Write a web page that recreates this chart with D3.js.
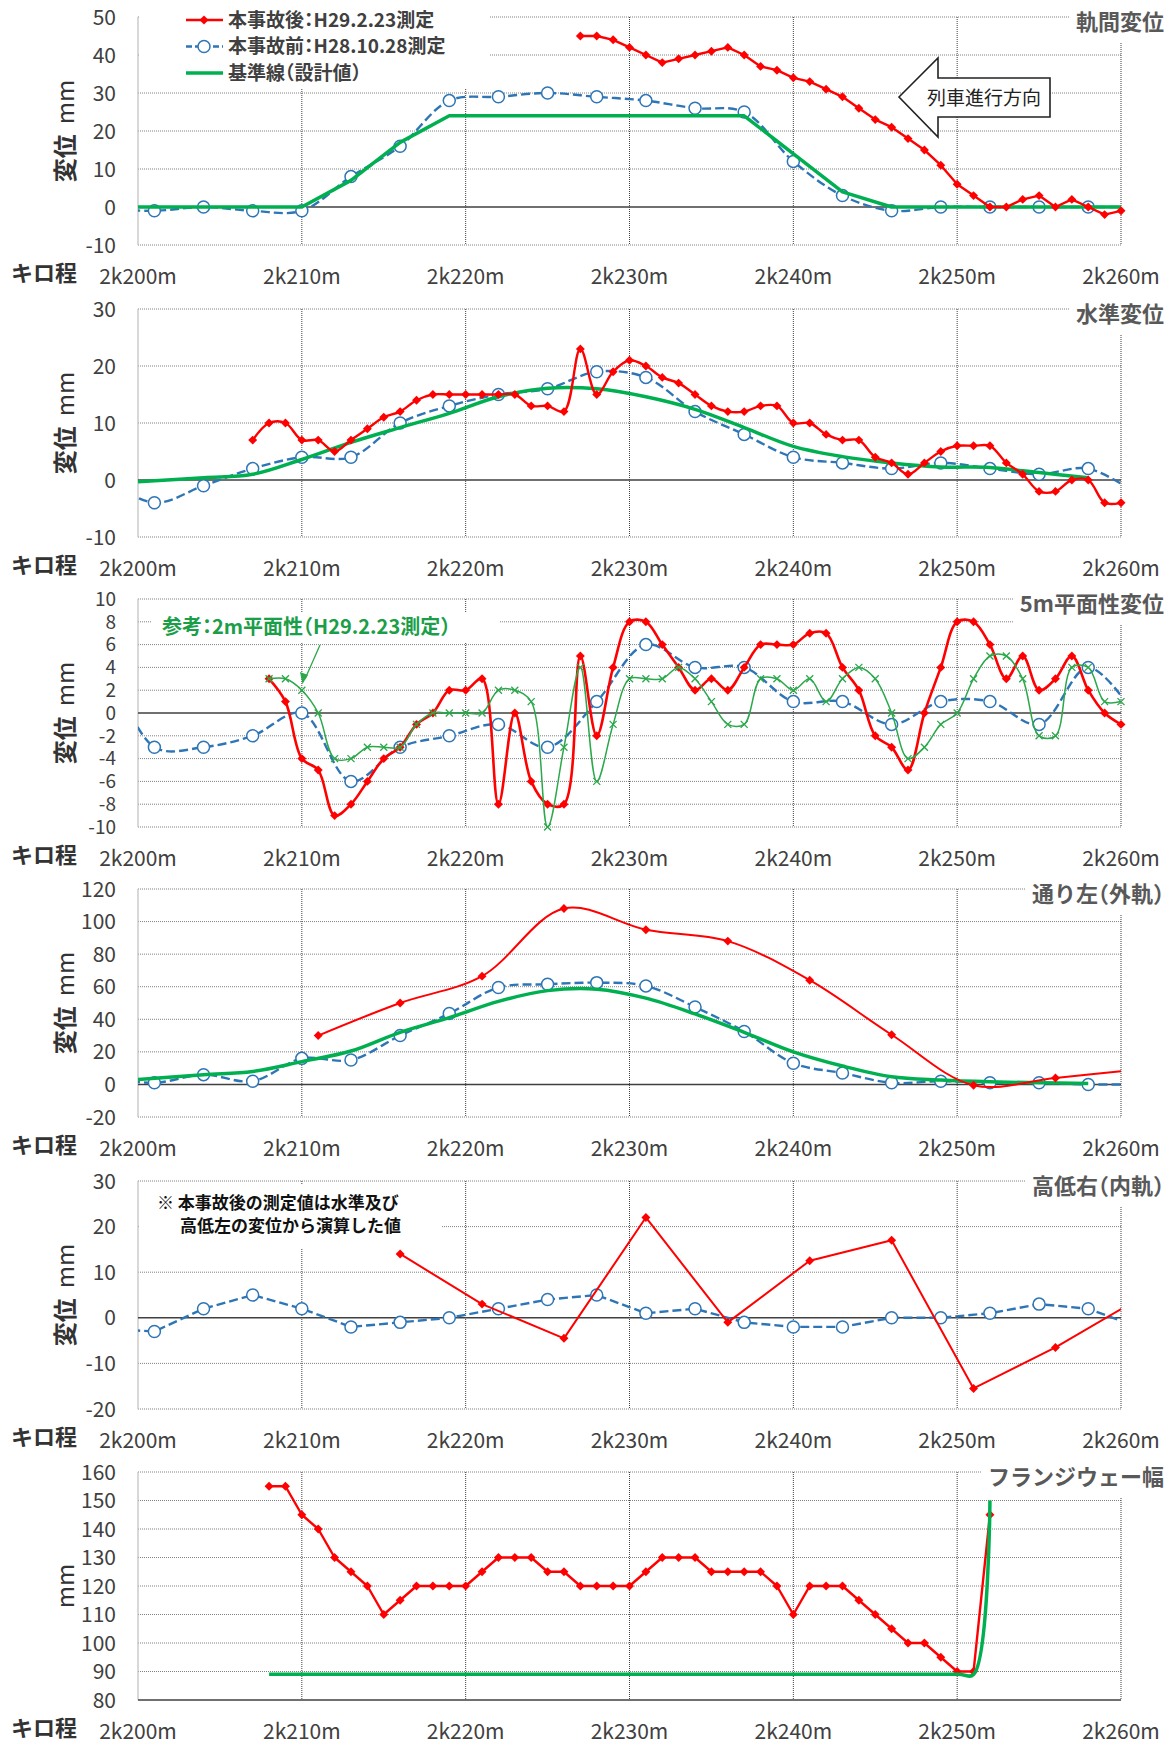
<!DOCTYPE html>
<html>
<head>
<meta charset="utf-8">
<script src="https://cdn.jsdelivr.net/npm/d3@7"></script>
<style>
body { margin: 0; background: #fff; }
svg { display: block; font-family: "Noto Sans CJK JP", "Noto Sans", sans-serif; }
svg text { font-feature-settings: "halt"; }
</style>
</head>
<body>
<div id="chart"></div>
<script>
// キロ程 (2k200m からの m)
var xTicks = [0, 10, 20, 30, 40, 50, 60];
var xTickLabels = ["2k200m", "2k210m", "2k220m", "2k230m", "2k240m", "2k250m", "2k260m"];

// 本事故前の測定点 (3m ピッチ, 両端はグラフ外)
var kmBefore = [-2, 1, 4, 7, 10, 13, 16, 19, 22, 25, 28, 31, 34, 37, 40, 43, 46, 49, 52, 55, 58, 61];

// 軌間変位
var gaugeBefore = [-0.5, -1, 0, -1, -1, 8, 16, 28, 29, 30, 29, 28, 26, 25, 12, 3, -1, 0, 0, 0, 0, 0];
var gaugeAfterKm = [27, 28, 29, 30, 31, 32, 33, 34, 35, 36, 37, 38, 39, 40, 41, 42, 43, 44, 45, 46, 47, 48, 49, 50, 51, 52, 53, 54, 55, 56, 57, 58, 59, 60];
var gaugeAfter = [45, 45, 44, 42, 40, 38, 39, 40, 41, 42, 40, 37, 36, 34, 33, 31, 29, 26, 23, 21, 18, 15, 11, 6, 3, 0, 0, 2, 3, 0, 2, 0, -2, -1];
var gaugeDesignKm = [0, 10, 13, 16, 19, 37, 43, 46, 60];
var gaugeDesign = [0, 0, 7, 17, 24, 24, 4, 0, 0];

// 水準変位
var levelBefore = [0.2, -4, -1, 2, 4, 4, 10, 13, 15, 16, 19, 18, 12, 8, 4, 3, 2, 3, 2, 1, 2, -2.5];
var levelAfterKm = [7, 8, 9, 10, 11, 12, 13, 14, 15, 16, 17, 18, 19, 20, 21, 22, 23, 24, 25, 26, 27, 28, 29, 30, 31, 32, 33, 34, 35, 36, 37, 38, 39, 40, 41, 42, 43, 44, 45, 46, 47, 48, 49, 50, 51, 52, 53, 54, 55, 56, 57, 58, 59, 60];
var levelAfter = [7, 10, 10, 7, 7, 5, 7, 9, 11, 12, 14, 15, 15, 15, 15, 15, 15, 13, 13, 12, 23, 15, 19,
                  21, 20, 18, 17, 15, 13, 12, 12, 13, 13, 10, 10, 8, 7, 7, 4, 3, 1, 3, 5, 6, 6, 6, 3, 1, -2, -2, 0, 0, -4, -4];
var levelDesignKm = [0, 4, 7, 10, 13, 16, 19, 22, 25, 28, 31, 34, 37, 40, 43, 46, 49, 52, 55, 58];
var levelDesign = [-0.3, 0.4, 1, 3.6, 6.6, 9.2, 11.7, 14.6, 16.1, 16, 14.6, 12.4, 9.2, 5.9, 4.1, 3, 2.3, 2.2, 1.3, 0.4];

// 5m平面性変位
var twistBefore = [5, -3, -3, -2, 0, -6, -3, -2, -1, -3, 1, 6, 4, 4, 1, 1, -1, 1, 1, -1, 4, -0.5];
var twistAfterKm = [8, 9, 10, 11, 12, 13, 14, 15, 16, 17, 18, 19, 20, 21, 22, 23, 24, 25, 26, 27, 28, 29, 30, 31, 32, 33, 34, 35, 36, 37, 38, 39, 40, 41, 42, 43, 44, 45, 46, 47, 48, 49, 50, 51, 52, 53, 54, 55, 56, 57, 58, 59, 60];
var twistAfter = [3, 1, -4, -5, -9, -8, -6, -4, -3, -1, 0, 2, 2, 3, -8, 0, -6, -8, -8, 5, -2, 4,
                  8, 8, 6, 4, 2, 3, 2, 4, 6, 6, 6, 7, 7, 4, 2, -2, -3, -5, 0, 4, 8, 8, 6, 3, 5, 2, 3, 5, 2, 0, -1];
var twist2m = [3, 3, 2, 0, -4, -4, -3, -3, -3, -1, 0, 0, 0, 0, 2, 2, 1, -10, -3, 4, -6, -1,
               3, 3, 3, 4, 3, 1, -1, -1, 3, 3, 2, 3, 1, 3, 4, 3, 0, -4, -3, -1, 0, 3, 5, 5, 3, -2, -2, 4, 4, 1, 1];

// 通り左(外軌)
var alignBefore = [4, 1, 6, 2, 16, 15, 30, 43.5, 59.5, 61.5, 62.5, 60.5, 47.5, 32.5, 13, 7, 1, 2, 1, 1, 0, 0];
var alignAfterKm = [11, 16, 21, 26, 31, 36, 41, 46, 51, 56, 61];
var alignAfter = [30, 50, 66.5, 108, 95, 88, 64, 30.5, -0.5, 4, 9.2];
var alignDesignKm = [0, 4, 7, 10, 13, 16, 19, 22, 25, 28, 31, 34, 37, 40, 43, 46, 49, 52, 55, 58];
var alignDesign = [3, 6, 8, 14, 20.5, 32, 41, 51, 57.6, 58.5, 53, 43.3, 32, 20, 11.3, 4.7, 2.7, 1.6, 1, 0.6];

// 高低右(内軌)
var surfBefore = [-2.4, -3, 2, 5, 2, -2, -1, 0, 2, 4, 5, 1, 2, -1, -2, -2, 0, 0, 1, 3, 2, -2];
var surfAfterKm = [16, 21, 26, 31, 36, 41, 46, 51, 56, 61];
var surfAfter = [14, 3, -4.5, 22, -1, 12.5, 17, -15.5, -6.5, 4];

// フランジウェー幅
var flangeKm = [8, 9, 10, 11, 12, 13, 14, 15, 16, 17, 18, 19, 20, 21, 22, 23, 24, 25, 26, 27, 28, 29, 30, 31, 32, 33, 34, 35, 36, 37, 38, 39, 40, 41, 42, 43, 44, 45, 46, 47, 48, 49, 50, 51, 52];
var flangeAfter = [155, 155, 145, 140, 130, 125, 120, 110, 115, 120, 120, 120, 120, 125, 130, 130, 130, 125, 125, 120, 120, 120,
                   120, 125, 130, 130, 130, 125, 125, 125, 125, 120, 110, 120, 120, 120, 115, 110, 105, 100, 100, 95, 90, 90, 145];
var flangeDesignKm = [8, 50, 51, 52];
var flangeDesign = [89, 89, 89, 150];

var RED = "#ff0000", BLUE = "#2e75b6", GREEN = "#00b050", GREEN2 = "#2aa84a", TXT = "#404040";

var panels = [
  { top: 17, dom: [-10, 50], ticks: [-10, 0, 10, 20, 30, 40, 50], title: "軌間変位", ytitle: true, fs: 21,
    series: [
      { km: kmBefore, v: gaugeBefore, kind: "before", smooth: true },
      { km: gaugeDesignKm, v: gaugeDesign, kind: "design", smooth: false },
      { km: gaugeAfterKm, v: gaugeAfter, kind: "after", smooth: false, w: 2.4 }
    ] },
  { top: 309, dom: [-10, 30], ticks: [-10, 0, 10, 20, 30], title: "水準変位", ytitle: true, fs: 21,
    series: [
      { km: kmBefore, v: levelBefore, kind: "before", smooth: true },
      { km: levelDesignKm, v: levelDesign, kind: "design", smooth: true },
      { km: levelAfterKm, v: levelAfter, kind: "after", smooth: true, w: 2.4 }
    ] },
  { top: 599, dom: [-10, 10], ticks: [-10, -8, -6, -4, -2, 0, 2, 4, 6, 8, 10], title: "5m平面性変位", ytitle: true, fs: 19,
    series: [
      { km: kmBefore, v: twistBefore, kind: "before", smooth: true },
      { km: twistAfterKm, v: twistAfter, kind: "after", smooth: true, w: 2.6 },
      { km: twistAfterKm, v: twist2m, kind: "twist2", smooth: true }
    ] },
  { top: 889, dom: [-20, 120], ticks: [-20, 0, 20, 40, 60, 80, 100, 120], title: "通り左（外軌）", ytitle: true, fs: 21,
    series: [
      { km: kmBefore, v: alignBefore, kind: "before", smooth: true },
      { km: alignDesignKm, v: alignDesign, kind: "design", smooth: true },
      { km: alignAfterKm, v: alignAfter, kind: "after", smooth: true, w: 2 }
    ] },
  { top: 1181, dom: [-20, 30], ticks: [-20, -10, 0, 10, 20, 30], title: "高低右（内軌）", ytitle: true, fs: 21,
    series: [
      { km: kmBefore, v: surfBefore, kind: "before", smooth: false },
      { km: surfAfterKm, v: surfAfter, kind: "after", smooth: false, w: 2 }
    ] },
  { top: 1472, dom: [80, 160], ticks: [80, 90, 100, 110, 120, 130, 140, 150, 160], title: "フランジウェー幅", ytitle: false, fs: 21,
    series: [
      { km: flangeKm, v: flangeAfter, kind: "after", smooth: false, w: 2.4 },
      { km: flangeDesignKm, v: flangeDesign, kind: "design", smooth: true }
    ] }
];

var PH = 228;
var svg = d3.select("#chart").append("svg").attr("width", 1174).attr("height", 1744);
var x = d3.scaleLinear().domain([0, 60]).range([138, 1121]);

svg.append("defs").append("clipPath").attr("id", "clipx")
   .append("rect").attr("x", x(0)).attr("y", 0).attr("width", x(60) - x(0)).attr("height", 1744);

var diamond = d3.symbol().type(d3.symbolSquare).size(40);

panels.forEach(function (p, pi) {
  var g = svg.append("g");
  var y = d3.scaleLinear().domain(p.dom).range([p.top + PH, p.top]);
  var bottom = p.top + PH;

  // 横グリッド
  g.selectAll(".hg").data(p.ticks.filter(function (t) { return t !== 0 && !(pi === 5 && t === 80); }))
   .enter().append("line")
   .attr("x1", x(0)).attr("x2", x(60))
   .attr("y1", function (d) { return y(d); }).attr("y2", function (d) { return y(d); })
   .attr("stroke", "#808080").attr("stroke-width", 1).attr("stroke-dasharray", "1,1");

  // 縦グリッド
  g.selectAll(".vg").data(xTicks.slice(1)).enter().append("line")
   .attr("x1", function (d) { return x(d); }).attr("x2", function (d) { return x(d); })
   .attr("y1", p.top).attr("y2", bottom)
   .attr("stroke", "#404040").attr("stroke-width", 1).attr("stroke-dasharray", "1,1");

  // 左軸
  g.append("line").attr("x1", x(0)).attr("x2", x(0)).attr("y1", p.top).attr("y2", bottom)
   .attr("stroke", "#bfbfbf").attr("stroke-width", 1.2);

  // 基線
  var base = pi === 5 ? 80 : 0;
  g.append("line").attr("x1", x(0)).attr("x2", x(60)).attr("y1", y(base)).attr("y2", y(base))
   .attr("stroke", "#404040").attr("stroke-width", 1.4);

  // y 目盛
  g.selectAll(".yl").data(p.ticks).enter().append("text")
   .attr("x", 116).attr("y", function (d) { return y(d); }).attr("dy", "0.36em")
   .attr("text-anchor", "end").attr("font-size", p.fs).attr("fill", TXT)
   .text(function (d) { return d; });

  // x 目盛
  g.selectAll(".xl").data(xTicks).enter().append("text")
   .attr("x", function (d) { return x(d); }).attr("y", bottom + 31).attr("dy", "0.36em")
   .attr("text-anchor", "middle").attr("font-size", 21).attr("fill", TXT)
   .text(function (d, i) { return xTickLabels[i]; });

  g.append("text").attr("x", 11).attr("y", bottom + 28).attr("dy", "0.36em")
   .attr("font-size", 22).attr("font-weight", "bold").attr("fill", "#333").text("キロ程");

  // y 軸タイトル
  var yt = g.append("text").attr("transform", "translate(65," + (p.top + PH / 2) + ") rotate(-90)")
   .attr("text-anchor", "middle").attr("dy", "0.36em").attr("font-size", 24).attr("fill", "#333");
  if (p.ytitle) {
    yt.append("tspan").attr("font-weight", "bold").text("変位");
    yt.append("tspan").attr("dx", 10).text("mm");
  } else {
    yt.text("mm");
  }

  // タイトル (白地)
  var title = g.append("text").attr("x", 1164).attr("y", p.top + 5).attr("dy", "0.36em")
   .attr("text-anchor", "end").attr("font-size", 22).attr("font-weight", "bold").attr("fill", "#595959")
   .text(p.title);
  var bb = title.node().getBBox();
  g.insert("rect", "text").attr("x", bb.x - 6).attr("y", p.top - 17).attr("width", 1174 - bb.x + 6).attr("height", 42)
   .attr("fill", "#fff");

  // 凡例・注記の白地
  if (pi === 0) {
    g.insert("rect", "text").attr("x", 139).attr("y", 0).attr("width", 351).attr("height", 88).attr("fill", "#fff");
  }
  if (pi === 2) {
    g.insert("rect", "text").attr("x", 152).attr("y", p.top + 14).attr("width", 348).attr("height", 30).attr("fill", "#fff");
  }
  if (pi === 4) {
    g.insert("rect", "text").attr("x", 140).attr("y", p.top + 4).attr("width", 301).attr("height", 64).attr("fill", "#fff");
  }

  // 系列
  p.series.forEach(function (s) {
    var pts = s.km.map(function (k, i) { return [k, s.v[i]]; });
    var line = d3.line().x(function (d) { return x(d[0]); }).y(function (d) { return y(d[1]); })
      .curve(s.smooth ? d3.curveCatmullRom.alpha(0.5) : d3.curveLinear);
    var path = g.append("path").attr("d", line(pts)).attr("fill", "none").attr("clip-path", "url(#clipx)")
      .attr("stroke-linejoin", "round");
    var inside = pts.filter(function (d) { return d[0] >= 0 && d[0] <= 60; });
    if (s.kind === "before") {
      path.attr("stroke", BLUE).attr("stroke-width", 2.4).attr("stroke-dasharray", "9,4");
      g.selectAll(null).data(inside).enter().append("circle")
       .attr("cx", function (d) { return x(d[0]); }).attr("cy", function (d) { return y(d[1]); })
       .attr("r", 6).attr("fill", "#fff").attr("stroke", BLUE).attr("stroke-width", 1.5);
    } else if (s.kind === "design") {
      path.attr("stroke", GREEN).attr("stroke-width", 3.5);
    } else if (s.kind === "after") {
      path.attr("stroke", RED).attr("stroke-width", s.w);
      g.selectAll(null).data(inside).enter().append("path")
       .attr("d", diamond)
       .attr("transform", function (d) { return "translate(" + x(d[0]) + "," + y(d[1]) + ") rotate(45)"; })
       .attr("fill", RED);
    } else if (s.kind === "twist2") {
      path.attr("stroke", GREEN2).attr("stroke-width", 1.5);
      g.selectAll(null).data(inside).enter().append("path")
       .attr("d", "M-3.5,-3.5L3.5,3.5M-3.5,3.5L3.5,-3.5")
       .attr("transform", function (d) { return "translate(" + x(d[0]) + "," + y(d[1]) + ")"; })
       .attr("stroke", GREEN2).attr("stroke-width", 1.3).attr("fill", "none");
    }
  });

  // 注記類
  if (pi === 0) {
    var lg = g.append("g");
    var rows = [
      { k: "after", t: "本事故後：H29.2.23測定" },
      { k: "before", t: "本事故前：H28.10.28測定" },
      { k: "design", t: "基準線（設計値）" }
    ];
    rows.forEach(function (r, i) {
      var ly = p.top + 3 + i * 26.5;
      var ln = lg.append("line").attr("x1", 186).attr("x2", 223).attr("y1", ly).attr("y2", ly);
      if (r.k === "after") {
        ln.attr("stroke", RED).attr("stroke-width", 2.4);
        lg.append("path").attr("d", diamond).attr("transform", "translate(204," + ly + ") rotate(45)").attr("fill", RED);
      } else if (r.k === "before") {
        ln.attr("stroke", BLUE).attr("stroke-width", 2.4).attr("stroke-dasharray", "6,3");
        lg.append("circle").attr("cx", 204).attr("cy", ly).attr("r", 6).attr("fill", "#fff").attr("stroke", BLUE).attr("stroke-width", 1.5);
      } else {
        ln.attr("stroke", GREEN).attr("stroke-width", 3.5);
      }
      lg.append("text").attr("x", 228).attr("y", ly).attr("dy", "0.36em").attr("font-size", 19)
        .attr("font-weight", "bold").attr("fill", TXT).text(r.t);
    });

    // 列車進行方向
    g.append("path").attr("d", "M899,97 L938,58 L938,78 L1050,78 L1050,117 L938,117 L938,137 Z")
     .attr("fill", "#fff").attr("stroke", "#222").attr("stroke-width", 1.6).attr("stroke-linejoin", "miter");
    g.append("text").attr("x", 984).attr("y", 98).attr("dy", "0.36em").attr("text-anchor", "middle")
     .attr("font-size", 19).attr("fill", "#222").text("列車進行方向");
  }
  if (pi === 2) {
    g.append("text").attr("x", 162).attr("y", p.top + 28).attr("dy", "0.36em").attr("font-size", 20)
     .attr("font-weight", "bold").attr("fill", "#1a9e48").text("参考：2m平面性（H29.2.23測定）");
    g.append("line").attr("x1", 320).attr("y1", p.top + 46).attr("x2", 305).attr("y2", p.top + 80)
     .attr("stroke", GREEN2).attr("stroke-width", 1.3);
    g.append("path").attr("d", "M302.5," + (p.top + 85) + " L300," + (p.top + 73) + " L308," + (p.top + 76) + " Z")
     .attr("fill", GREEN2);
  }
  if (pi === 4) {
    g.append("text").attr("x", 157).attr("y", p.top + 22).attr("dy", "0.36em").attr("font-size", 17)
     .attr("font-weight", "bold").attr("fill", "#111").text("※ 本事故後の測定値は水準及び");
    g.append("text").attr("x", 180).attr("y", p.top + 45).attr("dy", "0.36em").attr("font-size", 17)
     .attr("font-weight", "bold").attr("fill", "#111").text("高低左の変位から演算した値");
  }
});
</script>
</body>
</html>
